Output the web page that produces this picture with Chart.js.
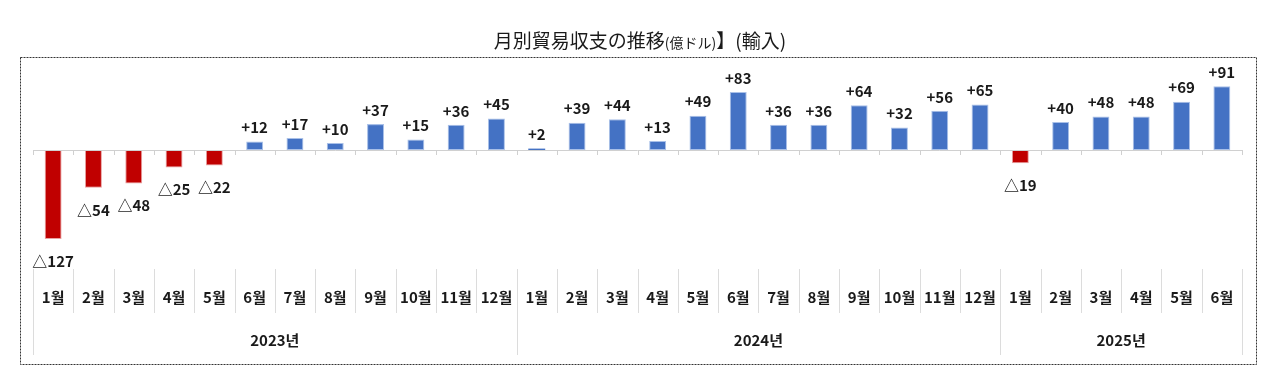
<!DOCTYPE html>
<html>
<head>
<meta charset="utf-8">
<script src="https://cdn.jsdelivr.net/npm/chart.js@4"></script>
<style>
  html, body { margin: 0; padding: 0; background: #fff; }
  #wrap { width: 1280px; height: 377px; }
</style>
</head>
<body>
<div id="wrap"><canvas id="tradeChart" width="1280" height="377"></canvas></div>
<script>
// 월별 무역수지 (억 달러)
const months = ['1월','2월','3월','4월','5월','6월','7월','8월','9월','10월','11월','12월',
                '1월','2월','3월','4월','5월','6월','7월','8월','9월','10월','11월','12월',
                '1월','2월','3월','4월','5월','6월'];
const balance = [-127, -54, -48, -25, -22, 12, 17, 10, 37, 15, 36, 45,
                 2, 39, 44, 13, 49, 83, 36, 36, 64, 32, 56, 65,
                 -19, 40, 48, 48, 69, 91];
const years = ['2023년', '2024년', '2025년'];
const yearSpans = [12, 12, 6];

const BLUE = '#4472C4';
const RED = '#C00000';
const KR = '"Noto Sans CJK KR", "Noto Sans", sans-serif';
const JP = '"Noto Sans CJK JP", "Noto Sans", sans-serif';

const decorPlugin = {
    id: 'decor',
    afterDraw(chart) {
        const ctx = chart.ctx;
        const x = chart.scales.x;
        const y = chart.scales.y;
        const area = chart.chartArea;
        const zeroY = y.getPixelForValue(0);
        const n = months.length;
        const edge = i => {
            if (i <= 0) return area.left;
            if (i >= n) return area.right;
            return (x.getPixelForValue(i - 1) + x.getPixelForValue(i)) / 2;
        };

        ctx.save();

        // dotted frame
        ctx.strokeStyle = '#333';
        ctx.lineWidth = 1;
        ctx.setLineDash([2, 1]);
        ctx.strokeRect(20.5, 57.5, 1236, 307);
        ctx.setLineDash([]);

        // title
        ctx.fillStyle = '#1a1a1a';
        ctx.textBaseline = 'alphabetic';
        const parts = [
            { t: '月別貿易収支の推移', f: '19px ' + JP },
            { t: '(億ドル)', f: '14px ' + JP },
            { t: '】(輸入)', f: '19px ' + JP }
        ];
        let total = 0;
        parts.forEach(p => { ctx.font = p.f; total += ctx.measureText(p.t).width; });
        let tx = 640 - total / 2;
        ctx.textAlign = 'left';
        parts.forEach(p => {
            ctx.font = p.f;
            ctx.fillText(p.t, tx, 48);
            tx += ctx.measureText(p.t).width;
        });

        // zero line with small ticks
        ctx.strokeStyle = '#d0d0d0';
        ctx.beginPath();
        ctx.moveTo(area.left, zeroY + 0.5);
        ctx.lineTo(area.right, zeroY + 0.5);
        for (let i = 0; i <= n; i++) {
            const ex = Math.round(edge(i)) + 0.5;
            ctx.moveTo(ex, zeroY);
            ctx.lineTo(ex, zeroY + 5);
        }
        ctx.stroke();

        // category separators
        const yearStarts = [0];
        yearSpans.reduce((acc, s) => { yearStarts.push(acc + s); return acc + s; }, 0);
        ctx.strokeStyle = '#dcdcdc';
        ctx.beginPath();
        for (let i = 0; i <= n; i++) {
            const ex = Math.round(edge(i)) + 0.5;
            const long = yearStarts.includes(i);
            ctx.moveTo(ex, 269);
            ctx.lineTo(ex, long ? 355 : 313);
        }
        ctx.stroke();

        // month labels
        ctx.fillStyle = '#1a1a1a';
        ctx.textAlign = 'center';
        ctx.textBaseline = 'middle';
        ctx.font = 'bold 15px ' + KR;
        months.forEach((m, i) => ctx.fillText(m, x.getPixelForValue(i), 297));

        // year labels
        ctx.font = 'bold 15px ' + KR;
        years.forEach((yr, k) => {
            const cx = (edge(yearStarts[k]) + edge(yearStarts[k + 1])) / 2;
            ctx.fillText(yr, cx, 340);
        });

        // value labels
        ctx.font = 'bold 15px ' + KR;
        balance.forEach((v, i) => {
            const bx = x.getPixelForValue(i);
            const by = y.getPixelForValue(v);
            if (v >= 0) {
                ctx.fillText('+' + v, bx, by - 14);
            } else {
                ctx.fillText('△' + Math.abs(v), bx, by + 22);
            }
        });

        ctx.restore();
    }
};

new Chart(document.getElementById('tradeChart').getContext('2d'), {
    type: 'bar',
    data: {
        labels: months.map((m, i) => i),
        datasets: [{
            data: balance,
            backgroundColor: balance.map(v => v < 0 ? RED : BLUE),
            borderColor: balance.map(v => v < 0 ? '#e8a0a0' : '#a9c0e8'),
            borderWidth: balance.map(v => Math.abs(v) < 5 ? 0 : 1),
            borderSkipped: false,
            categoryPercentage: 1,
            barPercentage: 0.42
        }]
    },
    options: {
        responsive: false,
        animation: false,
        devicePixelRatio: 1,
        layout: { padding: { left: 33, right: 38, top: 59, bottom: 108 } },
        scales: {
            x: { display: false, offset: true },
            y: { display: false, min: -170, max: 130 }
        },
        plugins: {
            legend: { display: false },
            title: { display: false },
            tooltip: { enabled: false }
        }
    },
    plugins: [decorPlugin]
});
</script>
</body>
</html>
